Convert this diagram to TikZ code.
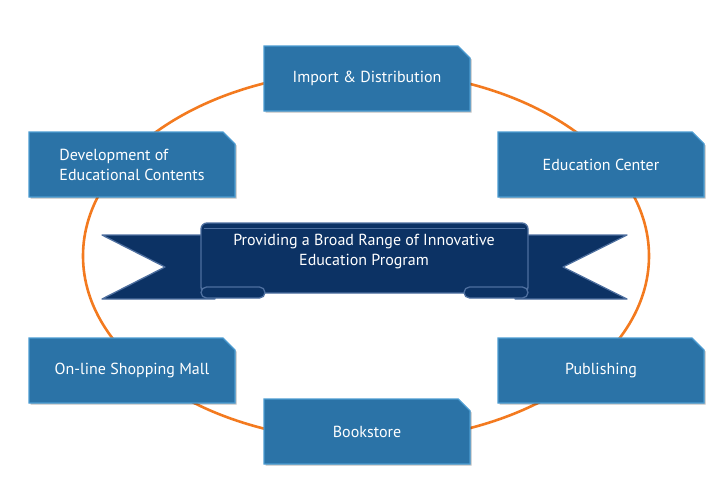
\documentclass[tikz,border=0pt]{standalone}
\usepackage{fontspec}
\setmainfont{PT Sans}
\usetikzlibrary{shapes.misc,shadows}
\definecolor{boxblue}{HTML}{2B73A7}
\definecolor{boxedge}{HTML}{4B9BD1}
\definecolor{navy}{HTML}{0C3264}
\definecolor{navyedge}{HTML}{4E6F9F}
\definecolor{ringorange}{HTML}{F37A1F}

\begin{document}
\begin{tikzpicture}[x=1pt, y=-1pt,
    area/.style={chamfered rectangle, chamfered rectangle corners=north east,
      chamfered rectangle sep=6pt, minimum width=206pt, minimum height=65pt,
      inner sep=0pt, fill=boxblue, draw=boxedge, line width=1.2pt, text=white,
      font=\fontsize{16}{20}\selectfont, align=left,
      drop shadow={shadow xshift=1.5pt, shadow yshift=-1.5pt, fill=black, opacity=0.25}},
    ribbon/.style={fill=navy, draw=navyedge, line width=1.3pt, line join=round}]
    \useasboundingbox (0,0) rectangle (725,482);

    \draw[ringorange, line width=2.6pt] (366,256) ellipse [x radius=283pt, y radius=185pt];

    \draw[ribbon] (102,235) -- (215,235) -- (215,299) -- (102,299) -- (165,267) -- cycle;
    \draw[ribbon] (627,235) -- (515,235) -- (515,299) -- (627,299) -- (563,267) -- cycle;
    \draw[ribbon, rounded corners=6] (201,293) -- (201,223) -- (528,223) -- (528,293) -- cycle;
    \draw[navyedge, line width=0.8pt] (204,228) -- (525,228);
    \draw[ribbon, rounded corners=5.5] (201,287) rectangle (265,298);
    \draw[ribbon, rounded corners=5.5] (464,287) rectangle (528,298);
    \node[text=white, font=\fontsize{16}{20}\selectfont, align=center] (Theme) at (364,252)
      {Providing a Broad Range of Innovative\\Education Program};

    \node[area] (Imp) at (367,78.5) {Import \& Distribution};
    \node[area] (Dev) at (132,164.5) {Development of\\Educational Contents};
    \node[area] (Edu) at (601,164.5) {Education Center};
    \node[area] (Mall) at (132,370.5) {On-line Shopping Mall};
    \node[area] (Pub) at (601,370.5) {Publishing};
    \node[area] (Book) at (367,431.5) {Bookstore};
  \end{tikzpicture}
\end{document}
